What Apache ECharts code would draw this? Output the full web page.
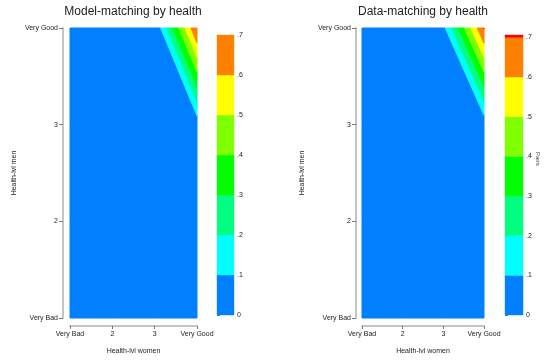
<!DOCTYPE html>
<html>
<head>
<meta charset="utf-8">
<script src="https://cdn.jsdelivr.net/npm/echarts@6/dist/echarts.min.js"></script>
<style>
  html, body { margin: 0; padding: 0; background: #fff; }
  #chart { width: 545px; height: 360px; }
</style>
</head>
<body>
<div id="chart"></div>
<script>
var healthLabels = ['Very Bad', '2', '3', 'Very Good'];
var levels = [0, 0.1, 0.2, 0.3, 0.4, 0.5, 0.6, 0.7];
var bandColors = ['#0080FF', '#00FFFF', '#00FF80', '#00FF00', '#80FF00', '#FFFF00', '#FF8000', '#FF0000'];

// rows: men health 1..4, columns: women health 1..4
var modelGrid = [
    [0.01, 0.01, 0.01, 0.02],
    [0.01, 0.01, 0.02, 0.03],
    [0.01, 0.02, 0.00, 0.04],
    [0.01, 0.01, 0.00, 0.70]
];
var dataGrid = [
    [0.01, 0.01, 0.01, 0.02],
    [0.01, 0.01, 0.02, 0.03],
    [0.01, 0.02, 0.01, 0.035],
    [0.02, 0.03, 0.07, 0.705]
];
var modelKeyMax = 0.7;
var dataKeyMax = 0.706;

var cells = [];
for (var r = 0; r < 3; r++) {
    for (var c = 0; c < 3; c++) {
        cells.push([c, r]);
    }
}

function clip(poly, level, keepAbove) {
    var out = [];
    var inside = function (p) { return keepAbove ? p.v >= level : p.v <= level; };
    for (var n = 0; n < poly.length; n++) {
        var q = poly[n];
        var p = poly[(n + poly.length - 1) % poly.length];
        var qin = inside(q), pin = inside(p);
        if (qin !== pin) {
            var t = (level - p.v) / (q.v - p.v);
            out.push({x: p.x + t * (q.x - p.x), y: p.y + t * (q.y - p.y), v: level});
        }
        if (qin) out.push(q);
    }
    return out;
}

function contourRender(grid) {
    return function (params, api) {
        var i = api.value(0), j = api.value(1);
        var corners = [[i, j], [i + 1, j], [i + 1, j + 1], [i, j + 1]].map(function (cr) {
            return {x: cr[0] + 1, y: cr[1] + 1, v: grid[cr[1]][cr[0]]};
        });
        var children = [];
        for (var k = 0; k < bandColors.length; k++) {
            var lo = k === 0 ? -Infinity : levels[k];
            var hi = k === bandColors.length - 1 ? Infinity : levels[k + 1];
            var poly = clip(clip(corners, lo, true), hi, false);
            if (poly.length < 3) continue;
            children.push({
                type: 'polygon',
                shape: {points: poly.map(function (p) { return api.coord([p.x, p.y]); })},
                style: {fill: bandColors[k], stroke: bandColors[k], lineWidth: 1, lineJoin: 'miter'}
            });
        }
        return {type: 'group', children: children};
    };
}

function keyBands(keyMax) {
    var out = [];
    for (var k = 0; k < bandColors.length; k++) {
        var hi = k === bandColors.length - 1 ? keyMax : levels[k + 1];
        if (hi > levels[k]) out.push([levels[k], hi, k]);
    }
    return out;
}

function keyRender(params, api) {
    var p0 = api.coord([0, api.value(0)]);
    var p1 = api.coord([1, api.value(1)]);
    var col = bandColors[api.value(2)];
    return {
        type: 'rect',
        shape: {x: p0[0], y: p1[1], width: p1[0] - p0[0], height: p0[1] - p1[1]},
        style: {fill: col, stroke: col, lineWidth: 0.4}
    };
}

var fontFam = 'Liberation Sans, Arial, sans-serif';
var labelStyle = {fontSize: 7, color: '#222', fontFamily: fontFam};

function plotX(gridIndex, offset) {
    return {
        type: 'value', gridIndex: gridIndex, min: 1, max: 4, interval: 1,
        offset: offset,
        name: 'Health-lvl women', nameLocation: 'middle', nameGap: 22,
        nameTextStyle: labelStyle,
        axisLine: {show: true, lineStyle: {color: '#c4c4c4', width: 2}},
        axisTick: {show: true, length: 3, lineStyle: {color: '#777'}},
        axisLabel: Object.assign({margin: 5, formatter: function (v) { return healthLabels[v - 1]; }}, labelStyle),
        splitLine: {show: false}
    };
}

function plotY(gridIndex, offset, gap) {
    return {
        type: 'value', gridIndex: gridIndex, min: 1, max: 4, interval: 1,
        offset: offset,
        name: 'Health-lvl men', nameLocation: 'middle', nameGap: gap,
        nameTextStyle: labelStyle,
        axisLine: {show: true, lineStyle: {color: '#c4c4c4', width: 2}},
        axisTick: {show: true, length: 4, lineStyle: {color: '#777'}},
        axisLabel: Object.assign({margin: 5, formatter: function (v) { return healthLabels[v - 1]; }}, labelStyle),
        splitLine: {show: false}
    };
}

function keyX(gridIndex) {
    return {type: 'value', gridIndex: gridIndex, min: 0, max: 1, show: false};
}

function keyY(gridIndex, keyMax) {
    return {
        type: 'value', gridIndex: gridIndex, min: 0, max: keyMax, interval: 0.1,
        position: 'right',
        axisLine: {show: true, lineStyle: {color: '#999', width: 1}},
        axisTick: {show: true, length: 3, lineStyle: {color: '#777'}},
        axisLabel: Object.assign({
            margin: 3,
            showMaxLabel: keyMax === 0.7,
            formatter: function (v) {
                var d = Math.round(v * 10);
                if (Math.abs(v * 10 - d) > 1e-6) return '';
                return d === 0 ? '0' : '.' + d;
            }
        }, labelStyle),
        splitLine: {show: false}
    };
}

var chart = echarts.init(document.getElementById('chart'));
var option = {
    backgroundColor: '#fff',
    animation: false,
    graphic: [
        {type: 'text', x: 133, y: 6, style: {text: 'Model-matching by health', fontSize: 12, fill: '#222', fontFamily: fontFam, align: 'center'}},
        {type: 'text', x: 423, y: 6, style: {text: 'Data-matching by health', fontSize: 12, fill: '#222', fontFamily: fontFam, align: 'center'}},
        {type: 'text', x: 541, y: 152, rotation: -Math.PI / 2, style: {text: 'Pairs', fontSize: 6, fill: '#444', fontFamily: fontFam}}
    ],
    grid: [
        {left: 70, top: 28, width: 127, height: 294},
        {left: 217, top: 35, width: 17, height: 280},
        {left: 362, top: 28, width: 122, height: 294},
        {left: 505, top: 35, width: 18, height: 280}
    ],
    xAxis: [plotX(0, 8), keyX(1), plotX(2, 8), keyX(3)],
    yAxis: [plotY(0, 7, 45), keyY(1, modelKeyMax), plotY(2, 6, 50), keyY(3, dataKeyMax)],
    series: [
        {type: 'custom', xAxisIndex: 0, yAxisIndex: 0, data: cells, renderItem: contourRender(modelGrid)},
        {type: 'custom', xAxisIndex: 1, yAxisIndex: 1, data: keyBands(modelKeyMax), renderItem: keyRender},
        {type: 'custom', xAxisIndex: 2, yAxisIndex: 2, data: cells, renderItem: contourRender(dataGrid)},
        {type: 'custom', xAxisIndex: 3, yAxisIndex: 3, data: keyBands(dataKeyMax), renderItem: keyRender}
    ]
};
chart.setOption(option);
</script>
</body>
</html>
